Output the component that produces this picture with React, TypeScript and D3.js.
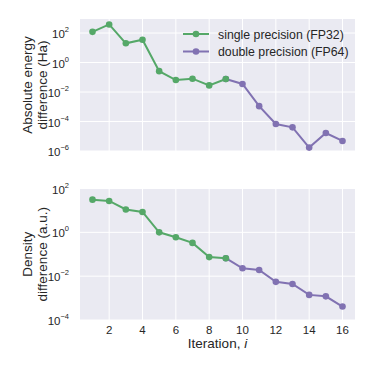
import { useRef, useEffect } from "react";
import * as d3 from "d3";

const iterations = [1, 2, 3, 4, 5, 6, 7, 8, 9, 10, 11, 12, 13, 14, 15, 16];
const energyDiff = [
  120, 380, 20, 35, 0.26, 0.065, 0.08, 0.028, 0.076, 0.035, 1.1e-3, 6.8e-5, 4e-5,
  1.7e-6, 1.65e-5, 4.8e-6,
];
const densityDiff = [
  31, 27, 11, 8.5, 1.0, 0.6, 0.33, 0.074, 0.066, 0.023, 0.019, 5.5e-3, 4.4e-3,
  1.4e-3, 1.2e-3, 4.1e-4,
];
const singleIters = [1, 2, 3, 4, 5, 6, 7, 8, 9];
const doubleIters = [9, 10, 11, 12, 13, 14, 15, 16];
const xTicks = [2, 4, 6, 8, 10, 12, 14, 16];
const energyTicks = [-6, -4, -2, 0, 2];
const densityTicks = [-4, -2, 0, 2];
const legendLabels = ["single precision (FP32)", "double precision (FP64)"];

const W = 374;
const H = 374;
const green = "#55A868";
const purple = "#8172B2";
const textColor = "#262626";
const font = "'Liberation Sans', Arial, sans-serif";

const App = () => {
  const svgRef = useRef<SVGSVGElement>(null);

  useEffect(() => {
    const svg = d3.select(svgRef.current);
    svg.selectAll("*").remove();

    const x = d3.scaleLinear().domain([0.25, 16.75]).range([80, 355]);

    const panels = [
      {
        values: energyDiff,
        y: d3.scaleLog().domain([1e-6, Math.pow(10, 2.95)]).range([151, 19]),
        ticks: energyTicks,
        labels: ["Absolute energy", "difference (Ha)"],
        showX: false,
      },
      {
        values: densityDiff,
        y: d3.scaleLog().domain([1e-4, 1e2]).range([320, 188.5]),
        ticks: densityTicks,
        labels: ["Density", "difference (a.u.)"],
        showX: true,
      },
    ];

    panels.forEach((p) => {
      const [y0, y1] = p.y.range();
      const g = svg.append("g");
      g.append("rect")
        .attr("x", x.range()[0])
        .attr("y", y1)
        .attr("width", x.range()[1] - x.range()[0])
        .attr("height", y0 - y1)
        .attr("fill", "#EAEAF2");

      g.selectAll(".vgrid")
        .data(xTicks)
        .enter()
        .append("line")
        .attr("x1", (d) => x(d))
        .attr("x2", (d) => x(d))
        .attr("y1", y1)
        .attr("y2", y0)
        .attr("stroke", "#fff")
        .attr("stroke-width", 1);

      g.selectAll(".hgrid")
        .data(p.ticks)
        .enter()
        .append("line")
        .attr("x1", x.range()[0])
        .attr("x2", x.range()[1])
        .attr("y1", (d) => p.y(Math.pow(10, d)))
        .attr("y2", (d) => p.y(Math.pow(10, d)))
        .attr("stroke", "#fff")
        .attr("stroke-width", 1);

      // y tick labels as 10^n
      p.ticks.forEach((t) => {
        const ty = p.y(Math.pow(10, t));
        const txt = g
          .append("text")
          .attr("x", 69)
          .attr("y", ty + 5)
          .attr("text-anchor", "end")
          .attr("font-family", font)
          .attr("font-size", 11.5)
          .attr("fill", textColor);
        txt.append("tspan").text("10");
        txt
          .append("tspan")
          .attr("font-size", 7.5)
          .attr("dy", -6)
          .text(t < 0 ? "\u2212" + Math.abs(t) : String(t));
      });

      // y label (two lines)
      const cy = (y0 + y1) / 2;
      p.labels.forEach((lab, i) => {
        g.append("text")
          .attr("transform", `translate(${32 + i * 14.5},${cy}) rotate(-90)`)
          .attr("text-anchor", "middle")
          .attr("font-family", font)
          .attr("font-size", 13.5)
          .attr("fill", textColor)
          .text(lab);
      });

      if (p.showX) {
        g.selectAll(".xt")
          .data(xTicks)
          .enter()
          .append("text")
          .attr("x", (d) => x(d))
          .attr("y", y0 + 14)
          .attr("text-anchor", "middle")
          .attr("font-family", font)
          .attr("font-size", 11.5)
          .attr("fill", textColor)
          .text((d) => d);
        const xl = g
          .append("text")
          .attr("x", (x.range()[0] + x.range()[1]) / 2)
          .attr("y", y0 + 28)
          .attr("text-anchor", "middle")
          .attr("font-family", font)
          .attr("font-size", 13.5)
          .attr("fill", textColor);
        xl.append("tspan").text("Iteration, ");
        xl.append("tspan").attr("font-style", "italic").text("i");
      }

      const line = d3
        .line<number>()
        .x((d) => x(d))
        .y((d) => p.y(p.values[iterations.indexOf(d)]));

      [
        { its: doubleIters, color: purple },
        { its: singleIters, color: green },
      ].forEach((s) => {
        g.append("path")
          .datum(s.its)
          .attr("d", line)
          .attr("fill", "none")
          .attr("stroke", s.color)
          .attr("stroke-width", 2);
        g.selectAll(null)
          .data(s.its)
          .enter()
          .append("circle")
          .attr("cx", (d) => x(d))
          .attr("cy", (d) => p.y(p.values[iterations.indexOf(d)]))
          .attr("r", 3.3)
          .attr("fill", s.color);
      });

      if (!p.showX) {
        [green, purple].forEach((c, i) => {
          const ly = 34 + i * 17.5;
          g.append("line")
            .attr("x1", 183)
            .attr("x2", 209)
            .attr("y1", ly)
            .attr("y2", ly)
            .attr("stroke", c)
            .attr("stroke-width", 2);
          g.append("circle").attr("cx", 196).attr("cy", ly).attr("r", 3.3).attr("fill", c);
          g.append("text")
            .attr("x", 218)
            .attr("y", ly + 4.5)
            .attr("font-family", font)
            .attr("font-size", 12.3)
            .attr("fill", textColor)
            .text(legendLabels[i]);
        });
      }
    });
  }, []);

  return (
    <svg
      ref={svgRef}
      width={W}
      height={H}
      style={{ position: "absolute", left: 0, top: 0, background: "#fff" }}
    />
  );
};

export default App;
